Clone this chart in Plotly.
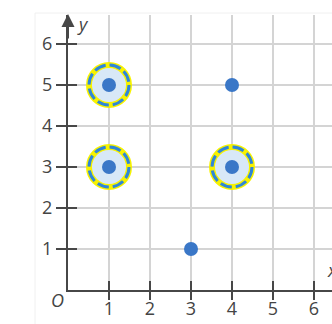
import plotly.graph_objects as go

# points plotted on the grid
point_x = [1, 1, 3, 4, 4]
point_y = [5, 3, 1, 5, 3]

# points that are circled
ring_x = [1, 1, 4]
ring_y = [5, 3, 3]

tick_vals = [1, 2, 3, 4, 5, 6]
tick_text = ["1", "2", "3", "4", "5", "6"]

W, H = 332, 324
UNIT = 41  # pixels per unit
X0, Y0 = 68, 290  # origin in pixels
TOP = 15

AXIS_COLOR = "#474747"
GRID_COLOR = "#d4d4d4"
DOT_COLOR = "#3a77c7"
TEXT_COLOR = "#444444"
FONT = "Open Sans"

x_range = [0, (W - X0) / UNIT]
y_range = [0, (Y0 - TOP) / UNIT]

fig = go.Figure()

fig.add_trace(go.Scatter(
    x=ring_x, y=ring_y, mode="markers", hoverinfo="skip",
    marker=dict(size=40, color="#d8e8f7",
                line=dict(color="#f7f200", width=6)),
    cliponaxis=False,
))
fig.add_trace(go.Scatter(
    x=point_x, y=point_y, mode="markers", hoverinfo="skip",
    marker=dict(size=14, color=DOT_COLOR, line=dict(width=0)),
    cliponaxis=False,
))
# dummy trace to bring up the overlay axes (crossing ticks)
fig.add_trace(go.Scatter(x=[None], y=[None], xaxis="x2", yaxis="y2",
                         showlegend=False, hoverinfo="skip"))

shapes = []
for cx, cy in zip(ring_x, ring_y):
    shapes.append(dict(
        type="circle", xref="x", yref="y",
        xsizemode="pixel", ysizemode="pixel",
        xanchor=cx, yanchor=cy,
        x0=-20, x1=20, y0=-20, y1=20,
        line=dict(color="#2f86d8", width=3, dash="11.7px,4px"),
        layer="above",
    ))
# faint panel edge
shapes.append(dict(type="rect", xref="paper", yref="paper",
                   x0=35 / W, x1=1.05, y0=-0.1, y1=1 - 13 / H,
                   line=dict(color="#f0f0f0", width=1), layer="below"))

axis_common = dict(
    showline=True, linecolor=AXIS_COLOR, linewidth=2,
    tickvals=tick_vals, ticktext=tick_text,
    tickcolor=AXIS_COLOR, tickwidth=2, ticklen=10,
    tickfont=dict(family=FONT, size=18, color=TEXT_COLOR),
    zeroline=False, fixedrange=True, automargin=False,
)
x_domain = [X0 / W, 1]
y_domain = [(H - Y0) / H, 1 - TOP / H]


def label(px, py, text):
    return dict(x=px / W, y=1 - py / H, xref="paper", yref="paper",
                xanchor="center", yanchor="middle",
                text=text, showarrow=False,
                font=dict(family=FONT, size=18, color=TEXT_COLOR))


fig.update_layout(
    width=W, height=H,
    margin=dict(l=0, r=0, t=0, b=0),
    paper_bgcolor="white", plot_bgcolor="white",
    showlegend=False,
    shapes=shapes,
    xaxis=dict(axis_common, domain=x_domain, range=x_range,
               ticks="inside", ticklen=9, ticklabelstandoff=1,
               showgrid=True, gridcolor=GRID_COLOR, gridwidth=1.5,
               anchor="y"),
    yaxis=dict(axis_common, domain=y_domain, range=y_range,
               ticks="outside", showgrid=True, gridcolor=GRID_COLOR,
               gridwidth=1.5, anchor="x"),
    xaxis2=dict(axis_common, domain=x_domain, range=x_range,
                overlaying="x", anchor="y2", ticks="outside", ticklen=9,
                showticklabels=False, showgrid=False, showline=False),
    yaxis2=dict(axis_common, domain=y_domain, range=y_range,
                overlaying="y", anchor="x2", ticks="inside", ticklen=9,
                showticklabels=False, showgrid=False, showline=False),
    annotations=[
        dict(x=0, y=(Y0 - 14) / UNIT, ax=0, ay=(Y0 - 40) / UNIT,
             xref="x", yref="y", axref="x", ayref="y",
             showarrow=True, arrowhead=2, arrowsize=1.3, arrowwidth=2,
             arrowcolor=AXIS_COLOR, text=""),
        label(83, 24, "<i>y</i>"),
        label(57, 300, "<i>O</i>"),
        label(332, 270, "<i>x</i>"),
    ],
)

fig.write_html("out.html", config={"displayModeBar": False},
               post_script="document.body.style.margin='0';")
